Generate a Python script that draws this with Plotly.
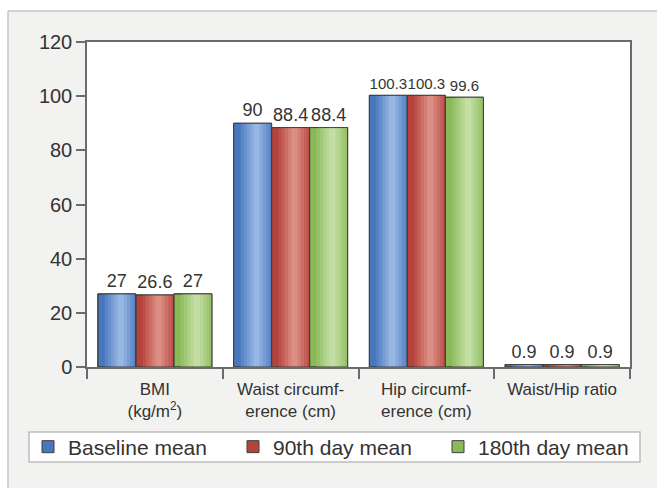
import plotly.graph_objects as go

# ---- data -------------------------------------------------------------
categories = ["BMI<br>(kg/m<sup>2</sup>)", "Waist circumf-<br>erence (cm)",
              "Hip circumf-<br>erence (cm)", "Waist/Hip ratio"]
series_names = ["Baseline mean", "90th day mean", "180th day mean"]
baseline = [27, 90, 100.3, 0.9]
day90 = [26.6, 88.4, 100.3, 0.9]
day180 = [27, 88.4, 99.6, 0.9]
y_ticks = [0, 20, 40, 60, 80, 100, 120]

# ---- styling ------------------------------------------------------------
W, H = 657, 488
M_L, M_R, M_T, M_B = 87, 27, 42, 121
PW, PH = W - M_L - M_R, H - M_T - M_B

# (edge colour, highlight colour) for each series' shaded bar
palettes = [("#4977be", "#97b6e4"), ("#b5423b", "#dc8e84"), ("#8aba58", "#c3dea4")]
OUTLINE = "#3f3f3f"
TEXT = "#333333"
FONT = "Liberation Sans, Arial, sans-serif"

BAR_W = 0.28                      # bar width in category units
GROUP_START = -1.5 * BAR_W

values = [baseline, day90, day180]
labels = [[f"{v:g}" for v in vals] for vals in values]
# long labels in a group would collide, so that group gets a smaller label font
long_group = [max(len(lab[j]) for lab in labels) > 4 for j in range(len(categories))]
label_sizes = [15 if long else 18 for long in long_group]


def px_x(p):
    return (p - M_L) / PW


def px_y(p):
    return (M_T + PH - p) / PH


def mix(c1, c2, t):
    a = [int(c1[i:i + 2], 16) for i in (1, 3, 5)]
    b = [int(c2[i:i + 2], 16) for i in (1, 3, 5)]
    return "#" + "".join(f"{round(x + (y - x) * t):02x}" for x, y in zip(a, b))


fig = go.Figure()
for i, (name, vals, (edge, light)) in enumerate(zip(series_names, values, palettes)):
    off = GROUP_START + i * BAR_W
    # base bar (also supplies the legend swatch)
    fig.add_trace(go.Bar(
        x=categories, y=vals, name=name, width=BAR_W, offset=off,
        marker=dict(color=edge, line=dict(color=OUTLINE, width=1)),
        hoverinfo="skip", legendrank=i,
    ))
    # lighter inner stripes give the cylindrical shading
    steps = 6
    for s in range(1, steps):
        frac = 1 - s / steps
        w = BAR_W * frac
        centre = off + BAR_W * 0.6
        left = max(off, centre - w / 2)
        right = min(off + BAR_W, centre + w / 2)
        fig.add_trace(go.Bar(
            x=categories, y=vals, width=right - left, offset=left,
            marker=dict(color=mix(edge, light, s / (steps - 1)), line=dict(width=0)),
            showlegend=False, hoverinfo="skip",
        ))
    # outline and value label on top
    fig.add_trace(go.Bar(
        x=categories, y=vals, width=BAR_W, offset=off,
        marker=dict(color="rgba(0,0,0,0)", line=dict(color=OUTLINE, width=1)),
        text=labels[i], textposition="outside", constraintext="none",
        textfont=dict(size=label_sizes, color=TEXT, family=FONT),
        cliponaxis=False, showlegend=False,
    ))

shapes = [
    # white margin above and left of the grey panel
    dict(type="rect", xref="paper", yref="paper", x0=px_x(-10), x1=px_x(W + 10),
         y0=px_y(11), y1=px_y(-10), fillcolor="white", line=dict(width=0), layer="above"),
    dict(type="rect", xref="paper", yref="paper", x0=px_x(-10), x1=px_x(8),
         y0=px_y(H + 10), y1=px_y(-10), fillcolor="white", line=dict(width=0), layer="above"),
    dict(type="line", xref="paper", yref="paper", x0=px_x(8), x1=px_x(W + 10),
         y0=px_y(11), y1=px_y(11), line=dict(color="#c6c6c6", width=1.5), layer="above"),
    dict(type="line", xref="paper", yref="paper", x0=px_x(8), x1=px_x(8),
         y0=px_y(11), y1=px_y(H + 10), line=dict(color="#c6c6c6", width=1.5), layer="above"),
    # legend frame
    dict(type="rect", xref="paper", yref="paper", x0=px_x(29), x1=px_x(640),
         y0=px_y(462), y1=px_y(432), fillcolor="white",
         line=dict(color="#bdbdbd", width=1.5), layer="above"),
]

fig.update_layout(
    width=W, height=H,
    margin=dict(l=M_L, r=M_R, t=M_T, b=M_B),
    paper_bgcolor="#f2f2f0", plot_bgcolor="white",
    barmode="overlay",
    font=dict(family=FONT, color=TEXT),
    showlegend=True,
    legend=dict(orientation="h", x=px_x(28), xanchor="left", y=px_y(447), yanchor="middle",
                bgcolor="rgba(0,0,0,0)", borderwidth=0, entrywidth=160,
                font=dict(size=21, color=TEXT, family=FONT), traceorder="normal"),
    shapes=shapes,
)
fig.update_xaxes(
    type="category", showgrid=False, showline=True, mirror=True,
    linecolor="#6b6b6b", linewidth=1.5, ticks="outside", tickson="boundaries",
    ticklen=10, tickcolor="#6b6b6b", tickwidth=1.5, ticklabelstandoff=6,
    tickfont=dict(size=17, color=TEXT, family=FONT),
)
fig.update_yaxes(
    range=[0, 120], tickvals=y_ticks, showgrid=False, zeroline=False,
    showline=True, mirror=True, linecolor="#6b6b6b", linewidth=1.5,
    ticks="outside", ticklen=9, tickcolor="#6b6b6b", tickwidth=1.5,
    tickfont=dict(size=20, color=TEXT, family=FONT),
)

fig.write_html("out.html")
